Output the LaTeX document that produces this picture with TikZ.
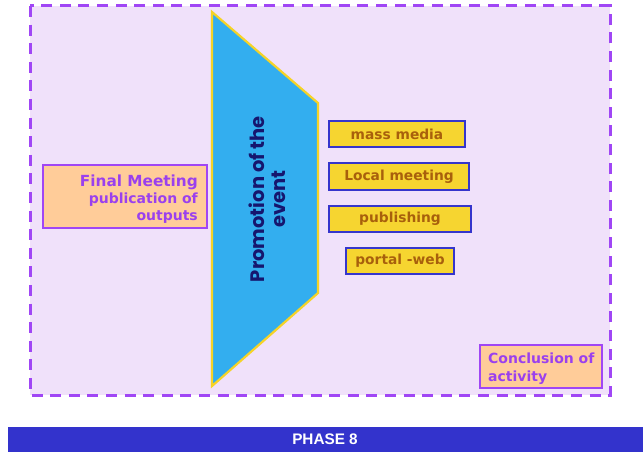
\documentclass[tikz,border=0pt]{standalone}
\usepackage{fontspec}
\setmainfont{DejaVu Sans}
\newfontfamily\promfont{Poppins}
\newfontfamily\barfont{Liberation Sans}
\definecolor{lav}{HTML}{F0E1FA}
\definecolor{dashpurple}{HTML}{A046F5}
\definecolor{trapblue}{HTML}{33AEEF}
\definecolor{trapedge}{HTML}{F5D327}
\definecolor{navytext}{HTML}{16166E}
\definecolor{peach}{HTML}{FFCC99}
\definecolor{purptext}{HTML}{9A40EE}
\definecolor{boxyellow}{HTML}{F6D530}
\definecolor{boxblue}{HTML}{3535CC}
\definecolor{browntext}{HTML}{A8600C}
\definecolor{barblue}{HTML}{3333CC}
\begin{document}
\begin{tikzpicture}[x=1pt,y=-1pt,
  peachbox/.style={draw=dashpurple,line width=2.4pt,fill=peach,inner sep=0pt},
  ybox/.style={draw=boxblue,line width=2.4pt,fill=boxyellow,inner sep=0pt,
    font=\bfseries\fontsize{13.8}{16}\selectfont,text=browntext}]
\useasboundingbox (0,0) rectangle (643,452);
\fill[white] (0,0) rectangle (643,452);
% outer dashed frame
\draw[fill=lav,draw=dashpurple,line width=3pt,dash pattern=on 11pt off 7.6pt] (30,6) rectangle (610,395);
% trapezoid
\draw[fill=trapblue,draw=trapedge,line width=2.2pt,line join=miter]
  (212,12) -- (318,103) -- (318,293) -- (212,386) -- cycle;
\node[rotate=90,align=center,text=navytext,font=\promfont\bfseries\fontsize{19.5}{21}\selectfont] (prom) at (267,199) {Promotion of the\\event};
% final meeting
\node[peachbox,minimum width=164pt,minimum height=63pt] (final) at (125,196.5) {};
\node[anchor=north east,align=right,text=purptext,inner sep=0pt,font=\bfseries\fontsize{14}{17}\selectfont] (finaltxt) at (198,175)
  {{\fontsize{15.3}{17}\selectfont Final Meeting}\\publication of\\outputs};
% right boxes
\node[ybox,minimum width=136pt,minimum height=26pt] (mass) at (397,134) {mass media};
\node[ybox,minimum width=140pt,minimum height=27pt] (local) at (399,176.5) {Local meeting};
\node[ybox,minimum width=142pt,minimum height=26pt] (pub) at (400,219) {publishing};
\node[ybox,minimum width=108pt,minimum height=26pt] (portal) at (400,261) {portal -web};
% conclusion
\node[peachbox,minimum width=122pt,minimum height=43pt] (concl) at (541,366.5) {};
\node[anchor=north west,align=left,text=purptext,inner sep=0pt,font=\bfseries\fontsize{14}{18}\selectfont] (concltxt) at (488,353) {Conclusion of\\activity};
% bottom bar
\fill[barblue] (8,427) rectangle (643,452);
\node[text=white,font=\barfont\bfseries\fontsize{15.3}{17}\selectfont] (phase) at (325,439.5) {PHASE 8};
\end{tikzpicture}
\end{document}
